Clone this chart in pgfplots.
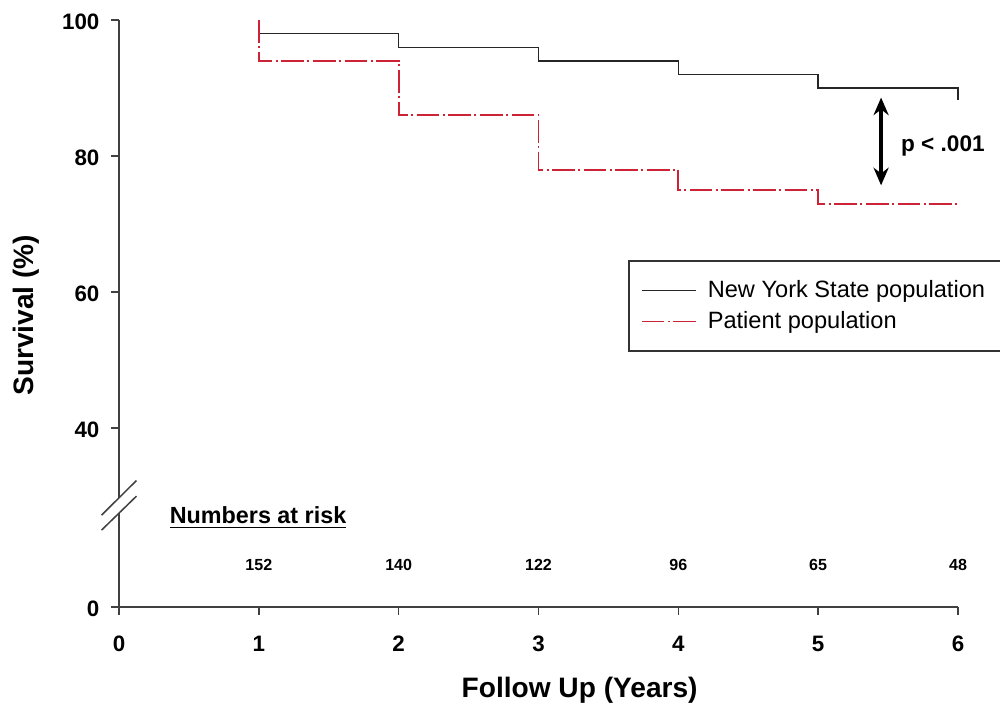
\documentclass[border=0pt]{standalone}
\usepackage{fontspec}
\setmainfont{Liberation Sans}
\usepackage{pgfplots}
\pgfplotsset{compat=1.18}
\usetikzlibrary{arrows.meta}
\definecolor{pred}{RGB}{205,35,55}
\begin{document}
\begin{tikzpicture}
\useasboundingbox (-1.666,-1.47) rectangle (12.334,8.498);
\begin{axis}[
 at={(0,0)}, anchor=south west,
 scale only axis, width=11.746cm, height=8.218cm,
 xmin=0, xmax=6, ymin=13.7, ymax=100,
 axis x line*=bottom, axis y line*=left,
 axis line style={line width=0.8pt, color=black!75},
 xtick={0,1,2,3,4,5,6},
 ytick={13.7,40,60,80,100}, yticklabels={0,40,60,80,100},
 tick align=outside, major tick length=0.11cm,
 tick style={line width=0.6pt, black!75},
 ticklabel style={font=\fontsize{8.9}{10}\selectfont\bfseries, text height=1.5ex, text depth=0.1ex},
 /pgf/number format/assume math mode=true,
 xticklabel style={yshift=-0.11cm},
 yticklabel style={xshift=-0.04cm},
 xlabel={Follow Up (Years)}, ylabel={Survival (\%)},
 label style={font=\fontsize{11.2}{13}\selectfont\bfseries},
 xlabel style={at={(axis description cs:0.549,-0.141)}, anchor=center},
 ylabel style={at={(axis description cs:-0.111,0.497)}, anchor=center},
 clip=false,
 legend style={at={(axis description cs:0.6067,0.591)}, anchor=north west,
   draw=black!80, line width=0.6pt, font=\fontsize{9.4}{11}\selectfont,
   inner xsep=0.17cm, inner ysep=0.2cm, row sep=0cm},
 legend cell align=left,
 legend image code/.code={\draw[#1] (0cm,0cm) -- (0.76cm,0cm);},
]
\addplot[black!85, line width=0.55pt] coordinates {
 (1,100) (1,98) (2,98) (2,96) (3,96) (3,94) (4,94) (4,92) (5,92) (5,90) (6,90) (6,88.3)};
\addlegendentry{\hspace{0.08cm}\makebox[4.1cm][l]{New York State population}}
\addplot[pred, line width=0.75pt, dash pattern=on 9pt off 1.4pt on 0.8pt off 1.4pt] coordinates {
 (1,100) (1,94) (2,94) (2,86) (3,86) (3,78) (4,78) (4,75) (5,75) (5,73) (6,73)};
\addlegendentry{\hspace{0.08cm}\makebox[4.1cm][l]{Patient population}}
\addplot[forget plot, only marks, mark=*, mark size=0pt, mark options={draw=none, fill=none},
  nodes near coords, point meta=explicit symbolic,
  nodes near coords style={font=\fontsize{6.4}{7}\selectfont\bfseries, anchor=center}]
 coordinates {(1,19.9)[152] (2,19.9)[140] (3,19.9)[122] (4,19.9)[96] (5,19.9)[65] (6,19.9)[48]};
\draw[{Stealth[length=7pt,width=6pt]}-{Stealth[length=7pt,width=6pt]}, line width=1.3pt]
 (axis cs:5.45,88.6) -- (axis cs:5.45,75.7);
\node[anchor=west, font=\fontsize{9}{11}\selectfont\bfseries] at (axis cs:5.53,81.5) {p < .001};
\node[anchor=west, font=\fontsize{9.3}{11}\selectfont\bfseries] at (axis cs:0.30,26.8) {\underline{Numbers at risk}};
\fill[white] (axis cs:-0.125,25.0) -- (axis cs:0.125,30.0) -- (axis cs:0.125,32.3) -- (axis cs:-0.125,27.2) -- cycle;
\draw[line width=0.6pt, black!75] (axis cs:-0.125,27.2) -- (axis cs:0.125,32.3);
\draw[line width=0.6pt, black!75] (axis cs:-0.125,25.0) -- (axis cs:0.125,30.0);
\end{axis}
\end{tikzpicture}
\end{document}
